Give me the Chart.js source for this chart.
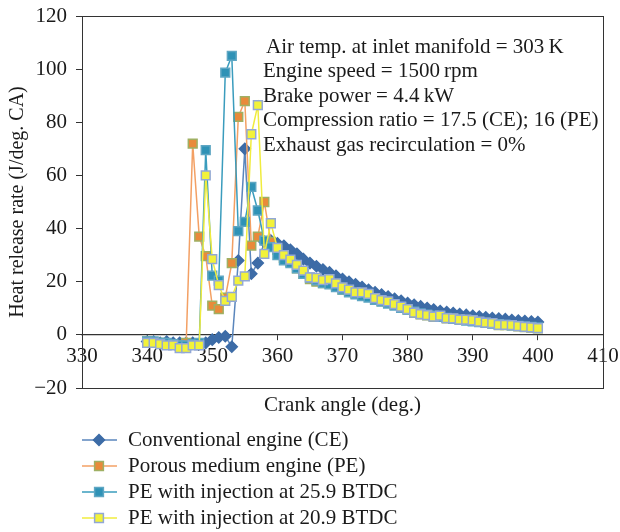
<!DOCTYPE html>
<html>
<head>
<meta charset="utf-8">
<script src="https://cdn.jsdelivr.net/npm/chart.js@4.4.1/dist/chart.umd.min.js"></script>
<style>
  html, body { margin: 0; padding: 0; background: #fff; }
</style>
</head>
<body>
<canvas id="hrr" width="620" height="532"></canvas>
<script>
// crank angle (deg.), one point per degree
const crankAngle = [340, 341, 342, 343, 344, 345, 346, 347, 348, 349,
  350, 351, 352, 353, 354, 355, 356, 357, 358, 359,
  360, 361, 362, 363, 364, 365, 366, 367, 368, 369,
  370, 371, 372, 373, 374, 375, 376, 377, 378, 379,
  380, 381, 382, 383, 384, 385, 386, 387, 388, 389,
  390, 391, 392, 393, 394, 395, 396, 397, 398, 399, 400]

// heat release rate (J/deg. CA)
const conventional = [-2.5, -2.5, -3, -2.5, -3, -3, -3, -3, -3.5, -3,
  -1.8, -1, -0.5, -4.5, 28, 70, 23, 27, 35, 35.5,
  34.5, 33.5, 32, 30.5, 28.5, 27, 25.8, 24.6, 23.5, 22.2,
  21, 20, 19, 18, 17, 16, 15.2, 14.4, 13.6, 12.8,
  12, 11.3, 10.7, 10.1, 9.5, 9, 8.6, 8.2, 7.8, 7.5,
  7.2, 6.9, 6.6, 6.3, 6.1, 5.9, 5.6, 5.4, 5.2, 5, 4.8]
const porous = [-2.5, -3, -3, -3.5, -3.5, -4, -3, 72, 37, 29.6,
  11, 9.7, 14, 27, 82, 88, 33.6, 37, 50, 35,
  32, 29, 27.5, 25, 23, 21, 20, 19.5, 19.5, 18.5,
  17, 16.5, 15.5, 15.3, 14.8, 13.4, 12.7, 12.2, 11.3, 10.4,
  9.5, 8.3, 7.7, 7.3, 6.8, 7, 6.2, 6.1, 5.6, 5.6,
  5.4, 4.9, 4.5, 4.3, 3.7, 3.7, 3.6, 3.2, 2.9, 2.7, 2.4]
const inject259 = [-2.5, -2.5, -3, -3, -3.5, -4, -4, -3.5, -3, 69.5,
  22.3, 20.4, 98.7, 105, 39, 42.5, 55.7, 46.8, 35.5, 33,
  30, 28, 27, 25, 23, 21.5, 20.5, 19.5, 19, 18,
  17, 16, 15.2, 14.6, 14, 13.2, 12.5, 11.8, 11, 10.2,
  9.5, 8.7, 8.1, 7.6, 7.2, 6.8, 6.4, 6, 5.7, 5.4,
  5.1, 4.8, 4.5, 4.2, 4, 3.8, 3.6, 3.4, 3.2, 3, 2.8]
const inject209 = [-3, -3, -3.5, -4, -4, -5, -5, -4, -4, 60,
  28.5, 18.7, 12.8, 14.3, 20.4, 22, 75.5, 86.5, 30.5, 42,
  32.7, 30, 28.3, 26.3, 24.2, 21.6, 21.4, 20.6, 21, 19.4,
  17.9, 17, 16, 16, 15.4, 13.8, 13.1, 12.6, 11.6, 10.6,
  9.7, 8.4, 7.8, 7.4, 6.9, 7.2, 6.3, 6.2, 5.7, 5.7,
  5.5, 5, 4.6, 4.4, 3.8, 3.8, 3.7, 3.3, 3, 2.8, 2.5]

const seriesNames = ['Conventional engine (CE)', 'Porous medium engine (PE)',
  'PE with injection at 25.9 BTDC', 'PE with injection at 20.9 BTDC']

const notes = ['Air temp. at inlet manifold = 303\u2009K', 'Engine speed = 1500\u2009rpm',
  'Brake power = 4.4\u2009kW', 'Compression ratio = 17.5 (CE); 16 (PE)',
  'Exhaust gas recirculation = 0%']

const SERIF = '"Liberation Serif", "DejaVu Serif", serif'
const FONT = '21px ' + SERIF
const INK = '#1a1a1a'

function points (values) {
  return crankAngle.map((x, i) => ({ x: x, y: values[i] }))
}

function series (label, values, style) {
  return Object.assign({
    label: label,
    data: points(values),
    borderWidth: 1.5,
    pointBorderWidth: 1.5,
    tension: 0
  }, style)
}

const datasets = [
  series(seriesNames[0], conventional, {
    borderColor: '#5a86bc', pointStyle: 'rectRot', pointRadius: 5.5,
    pointBackgroundColor: '#3d6ca7', pointBorderColor: '#3d6ca7', order: 4
  }),
  series(seriesNames[1], porous, {
    borderColor: '#f3a064', pointStyle: 'rect', pointRadius: 6.2,
    pointBackgroundColor: '#e98a3a', pointBorderColor: '#9fb063', order: 3
  }),
  series(seriesNames[2], inject259, {
    borderColor: '#3a9cbd', pointStyle: 'rect', pointRadius: 6.2,
    pointBackgroundColor: '#2f92b6', pointBorderColor: '#5ea6c3', order: 2
  }),
  series(seriesNames[3], inject209, {
    borderColor: '#f0ec3e', pointStyle: 'rect', pointRadius: 6.2,
    pointBackgroundColor: '#f2f23a', pointBorderColor: '#92a8d6', order: 1
  })
]

function drawMarker (ctx, ds, x, y) {
  const r = ds.pointRadius
  ctx.fillStyle = ds.pointBackgroundColor
  ctx.strokeStyle = ds.pointBorderColor
  ctx.lineWidth = ds.pointBorderWidth
  ctx.beginPath()
  if (ds.pointStyle === 'rectRot') {
    ctx.moveTo(x, y - r); ctx.lineTo(x + r, y); ctx.lineTo(x, y + r); ctx.lineTo(x - r, y)
    ctx.closePath()
  } else {
    const s = r * Math.SQRT1_2
    ctx.rect(x - s, y - s, 2 * s, 2 * s)
  }
  ctx.fill()
  ctx.stroke()
}

const extras = {
  id: 'extras',
  afterDraw (chart) {
    const { ctx, chartArea: a } = chart
    ctx.save()
    // frame round the plot
    ctx.strokeStyle = '#333'
    ctx.lineWidth = 1
    ctx.strokeRect(Math.round(a.left) + 0.5, Math.round(a.top) + 0.5,
      Math.round(a.right - a.left), Math.round(a.bottom - a.top))

    ctx.font = FONT
    ctx.fillStyle = INK
    ctx.textBaseline = 'middle'
    ctx.textAlign = 'left'
    notes.forEach((t, i) => ctx.fillText(t, i === 0 ? 266 : 263, 47 + i * 24.6))

    ctx.textAlign = 'center'
    ctx.fillText('Crank angle (deg.)', (a.left + a.right) / 2, 405)

    // legend, one entry per row
    chart.data.datasets.forEach((ds, i) => {
      const y = 440 + i * 26
      ctx.strokeStyle = ds.borderColor
      ctx.lineWidth = 1.5
      ctx.beginPath()
      ctx.moveTo(82, y); ctx.lineTo(117, y)
      ctx.stroke()
      drawMarker(ctx, ds, 99, y)
      ctx.fillStyle = INK
      ctx.textAlign = 'left'
      ctx.fillText(ds.label, 128, y)
    })
    ctx.restore()
  }
}

Chart.defaults.font.family = SERIF
Chart.defaults.font.size = 21
Chart.defaults.color = INK

new Chart(document.getElementById('hrr'), {
  type: 'line',
  data: { datasets: datasets },
  options: {
    responsive: false,
    animation: false,
    layout: { padding: { left: 0, top: 16, right: 17, bottom: 144 } },
    plugins: { legend: { display: false }, tooltip: { enabled: false } },
    scales: {
      x: {
        type: 'linear',
        position: { y: 0 },
        min: 330,
        max: 410,
        ticks: { stepSize: 10, padding: 4, maxRotation: 0 },
        grid: { drawOnChartArea: false, drawTicks: true, tickLength: 5, color: '#333' },
        border: { color: '#333', width: 1.2 },
        afterFit (s) { s.height = 0; s.paddingLeft = 0; s.paddingRight = 0 }
      },
      y: {
        min: -20,
        max: 120,
        ticks: {
          stepSize: 20,
          padding: 9,
          callback: v => (v < 0 ? '\u2212' + Math.abs(v) : String(v))
        },
        grid: { drawOnChartArea: false, drawTicks: true, tickLength: 6, color: '#333' },
        border: { color: '#333', width: 1 },
        title: {
          display: true,
          text: 'Heat release rate (J/deg. CA)',
          font: { size: 20 },
          padding: { top: 6, bottom: 0 }
        },
        afterFit (s) { s.width = 82; s.paddingTop = 0; s.paddingBottom = 0 }
      }
    }
  },
  plugins: [extras]
})
</script>
</body>
</html>
